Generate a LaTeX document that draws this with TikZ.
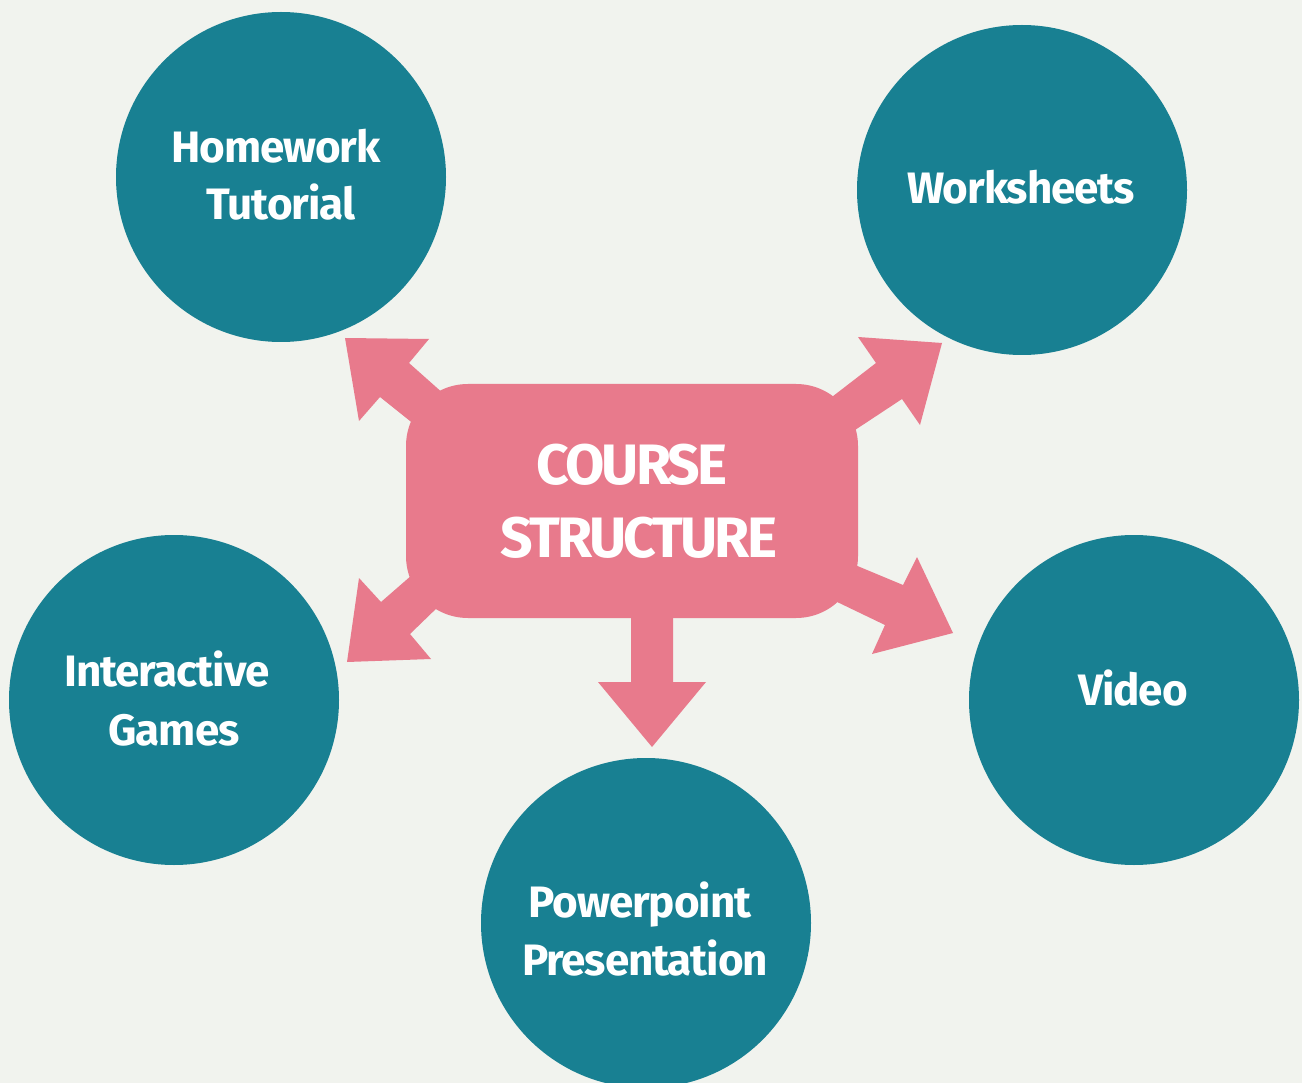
\documentclass[tikz,border=0pt]{standalone}
\usepackage{fontspec}
\setmainfont{Fira Sans}
\definecolor{bg}{HTML}{F1F3EE}
\definecolor{teal}{HTML}{188092}
\definecolor{pinkc}{HTML}{E87A8C}
\tikzset{
  topic/.style={circle,fill=teal,minimum size=330pt,inner sep=0pt},
  lbl/.style={text=white,font=\fontsize{44}{58}\selectfont\bfseries\addfontfeatures{LetterSpace=-2.5},align=center,inner sep=0pt},
  big/.style={text=white,font=\fontsize{57}{72}\selectfont\bfseries\addfontfeatures{LetterSpace=-5},align=center,inner sep=0pt},
  blockarrow/.style={fill=pinkc,draw=none}
}
\begin{document}
\begin{tikzpicture}[x=1pt,y=-1pt]
\fill[bg] (0,0) rectangle (1302,1083);
\useasboundingbox (0,0) rectangle (1302,1083);
% circles
\node[topic] (hw) at (281,177) {};
\node[topic] (ws) at (1022,190) {};
\node[topic] (ig) at (174,700) {};
\node[topic] (vd) at (1134,700) {};
\node[topic] (pp) at (646,923) {};
% block arrows
\fill[blockarrow] (445,395) -- (409,363) -- (429,339) -- (345,338) -- (359,421) -- (380,397) -- (415,425) -- cycle;
\fill[blockarrow] (828,400) -- (876,363) -- (858,337) -- (942,343) -- (920,425) -- (902,399) -- (852,432) -- cycle;
\fill[blockarrow] (412,575) -- (381,602) -- (359,578) -- (347,662) -- (431,659) -- (410,634) -- (440,605) -- cycle;
\fill[blockarrow] (855,565) -- (903,585) -- (917,557) -- (953,633) -- (872,654) -- (885,625) -- (833,600) -- cycle;
\fill[blockarrow] (631,610) -- (631,682) -- (598,682) -- (652,747) -- (706,682) -- (673,682) -- (673,610) -- cycle;
% central box
\node[fill=pinkc,rounded corners=62pt,minimum width=452pt,minimum height=234pt,inner sep=0pt] (cs) at (632,501) {};
% labels
\node[big,anchor=base] (t1) at (632,484) {COURSE};
\node[big,anchor=base] (t2) at (639,557) {STRUCTURE};
\node[lbl,anchor=base] (l1a) at (276,163) {Homework};
\node[lbl,anchor=base] (l1b) at (281,220) {Tutorial};
\node[lbl,anchor=base] (l2) at (1021,204) {Worksheets};
\node[lbl,anchor=base] (l3a) at (167,686) {Interactive};
\node[lbl,anchor=base] (l3b) at (174,745) {Games};
\node[lbl,anchor=base] (l4) at (1133,705) {Video};
\node[lbl,anchor=base] (l5a) at (640,917) {Powerpoint};
\node[lbl,anchor=base] (l5b) at (645,975) {Presentation};
\end{tikzpicture}
\end{document}
